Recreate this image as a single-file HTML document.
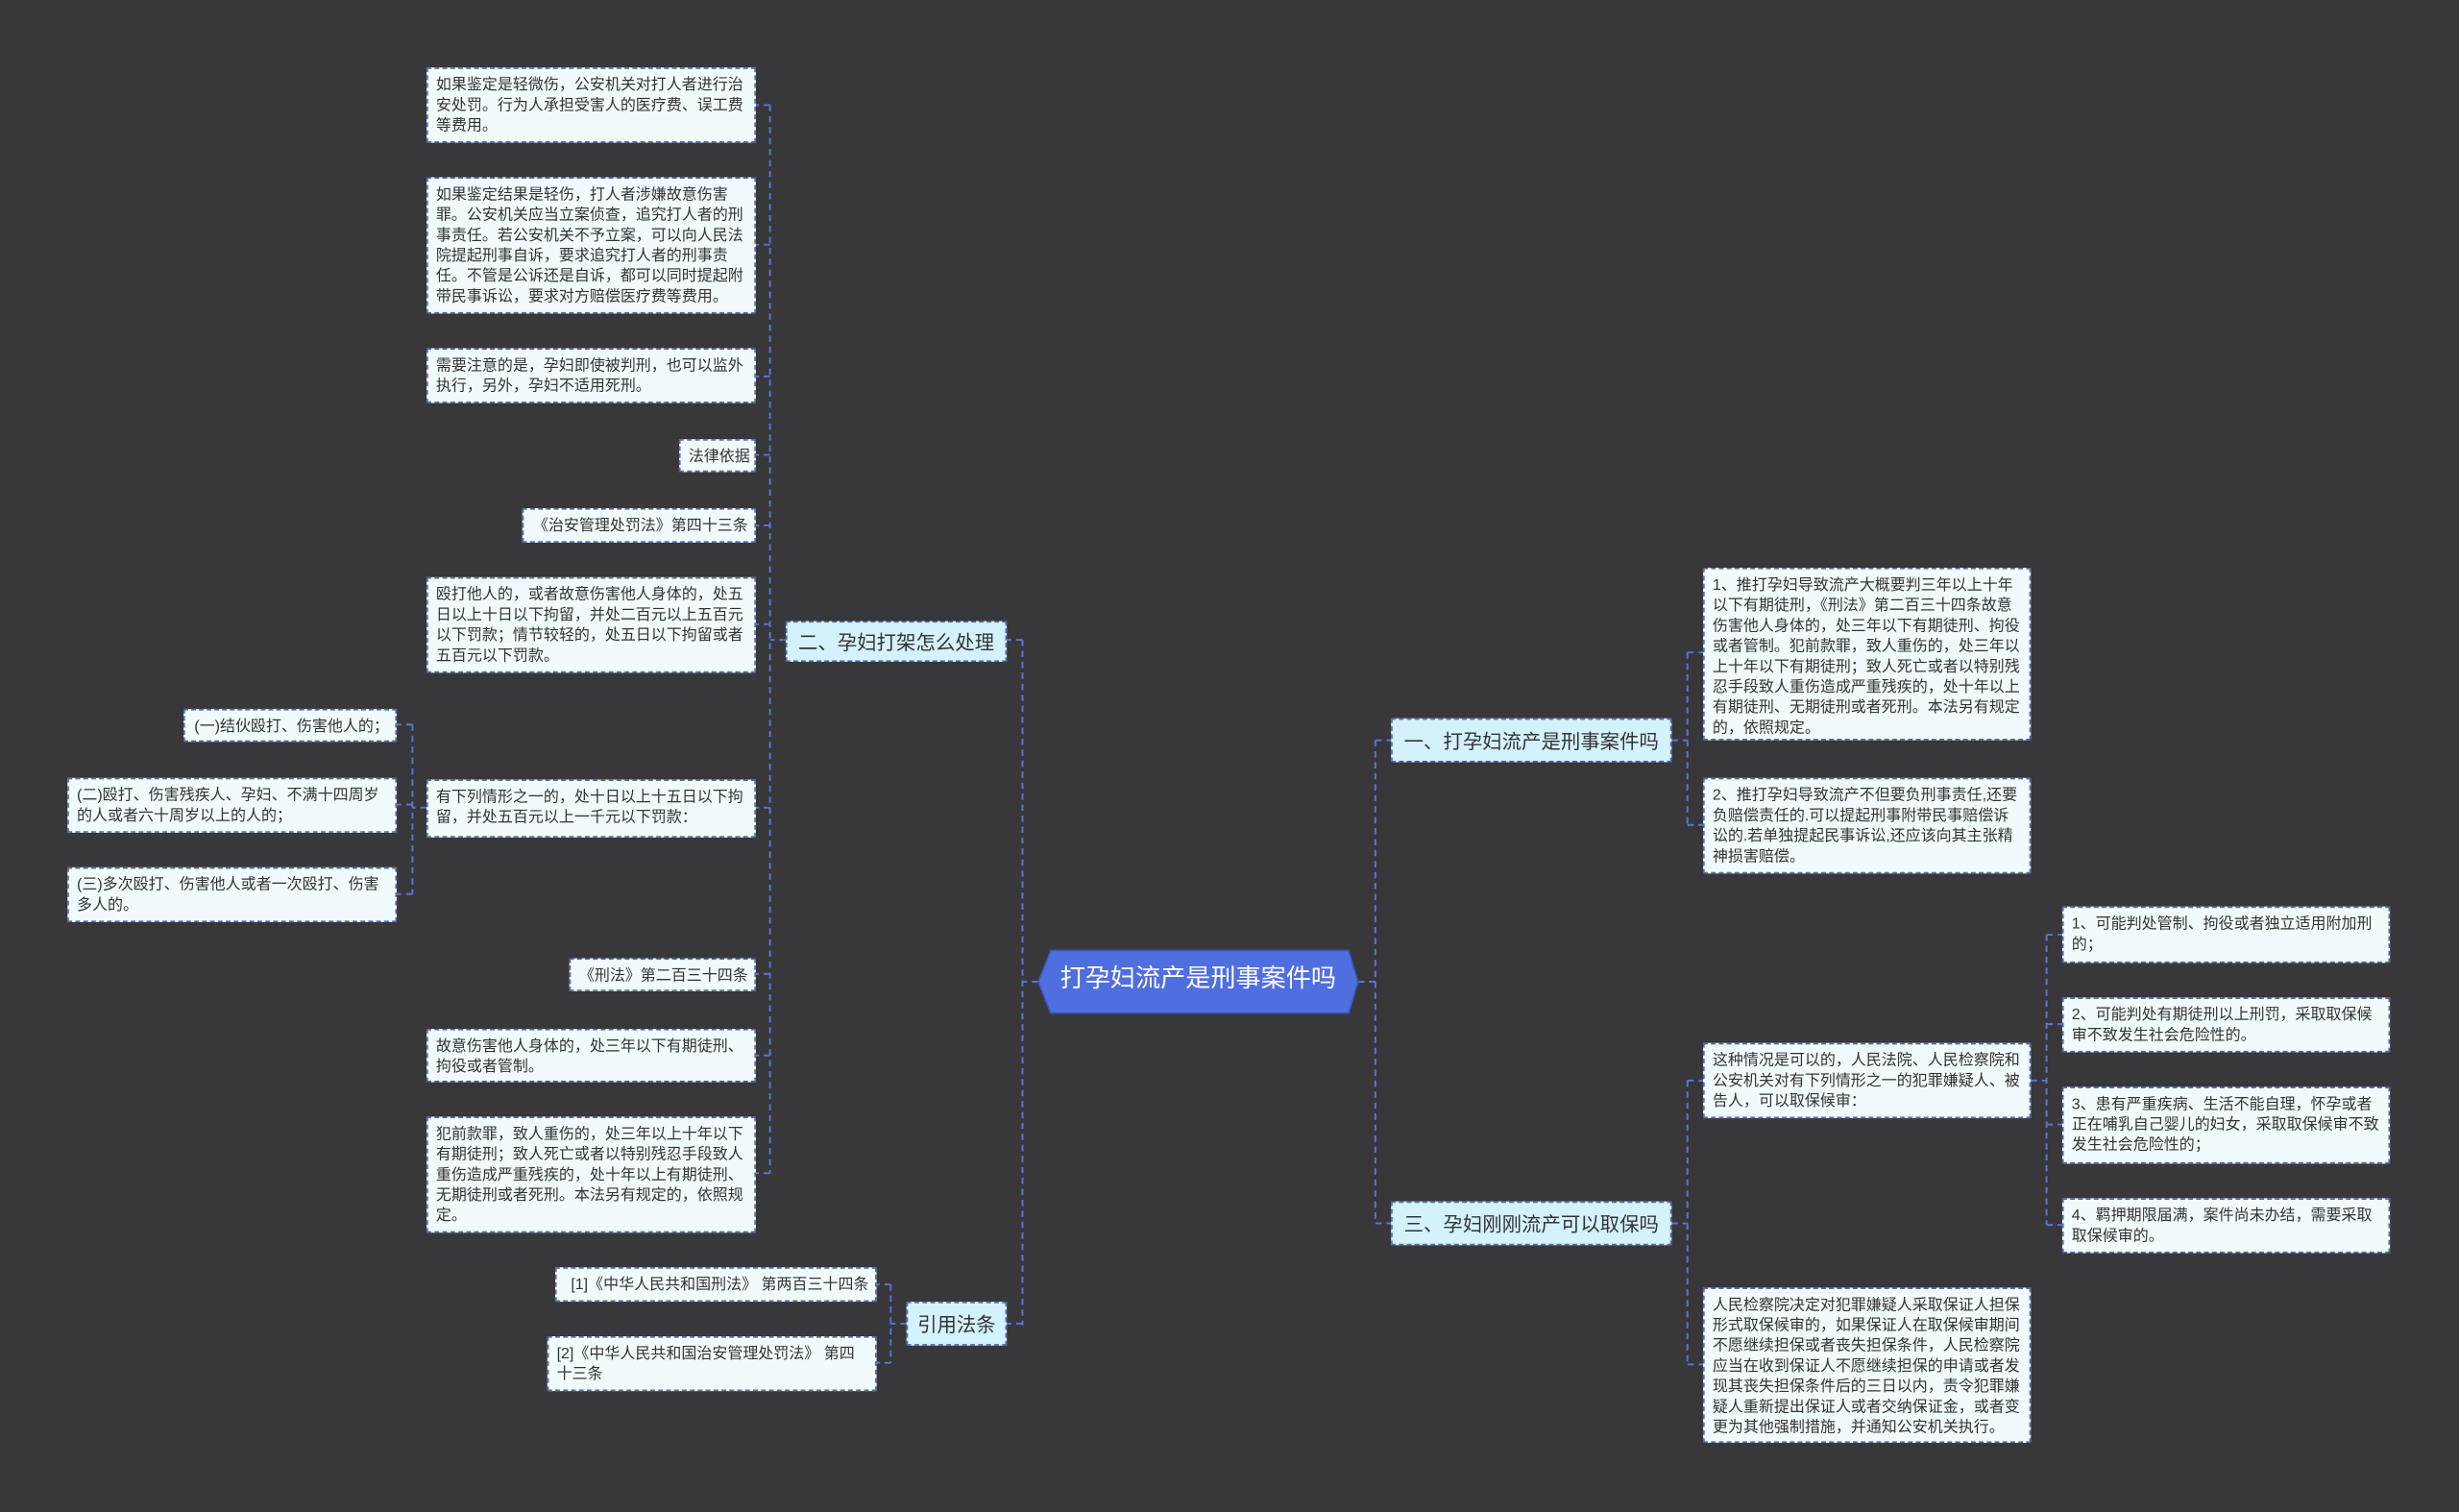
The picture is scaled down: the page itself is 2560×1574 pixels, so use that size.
<!DOCTYPE html>
<html><head><meta charset="utf-8">
<style>
html,body{margin:0;padding:0;background:#383739;}
body{width:2560px;height:1574px;overflow:hidden;}
#w{position:absolute;left:0;top:0;width:1568px;height:964px;transform:scale(1.63265);transform-origin:0 0;font-family:"Liberation Sans","Noto Sans CJK SC",sans-serif;}
.n{position:absolute;box-sizing:border-box;background:#f1fbfd;border:1px dashed #5468a8;color:#333;font-size:9.8px;line-height:13px;padding:4px 4px 4px 5px;word-break:break-all;overflow:hidden;}
.s{white-space:nowrap;text-align:right;padding-right:4px;}
.l1{position:absolute;box-sizing:border-box;background:#d4f2fc;border:1px dashed #5468a8;color:#333;font-size:12.5px;line-height:26px;text-align:center;white-space:nowrap;}
svg{position:absolute;left:0;top:0;}
</style></head><body><div id="w">
<svg width="1568" height="964"><g stroke="#5a74d6" stroke-width="1.2" stroke-dasharray="4,3" fill="none">
<path d="M662 626H652M652 408V845M652 408H642M652 844H642"/>
<path d="M866 626H877M877 472V780M877 472H887M877 780H887"/>
<path d="M501 408H491M491 67V748M491 67H482M491 156H482M491 240H482M491 290H482M491 335H482M491 398H482M491 515H482M491 621H482M491 673H482M491 748H482"/>
<path d="M272 515H263M263 462V570M263 462H253M263 513H253M263 570H253"/>
<path d="M578 844H568M568 819V869M568 819H559M568 869H559"/>
<path d="M1066 472H1076M1076 416V526M1076 416H1086M1076 526H1086"/>
<path d="M1066 780H1076M1076 689V870M1076 689H1086M1076 870H1086"/>
<path d="M1295 689H1305M1305 596V781M1305 596H1315M1305 653H1315M1305 717H1315M1305 781H1315"/>
</g>
<polygon points="670,606 860,606 866,626 860,646 670,646 662,626" fill="#4f6ee0" stroke="#3c55b8"/>
</svg>
<div style="position:absolute;left:662px;top:605px;width:204px;height:40px;line-height:40px;text-align:center;color:#fff;font-size:16px;white-space:nowrap;">打孕妇流产是刑事案件吗</div>

<div class="l1" style="left:501px;top:396px;width:141px;height:26px;">二、孕妇打架怎么处理</div>
<div class="l1" style="left:578px;top:830px;width:64px;height:28px;line-height:28px;">引用法条</div>
<div class="l1" style="left:887px;top:458px;width:179px;height:28px;line-height:28px;">一、打孕妇流产是刑事案件吗</div>
<div class="l1" style="left:887px;top:766px;width:179px;height:28px;line-height:28px;">三、孕妇刚刚流产可以取保吗</div>

<div class="n" style="left:272px;top:43px;width:210px;height:48px;">如果鉴定是轻微伤，公安机关对打人者进行治安处罚。行为人承担受害人的医疗费、误工费等费用。</div>
<div class="n" style="left:272px;top:113px;width:210px;height:87px;">如果鉴定结果是轻伤，打人者涉嫌故意伤害罪。公安机关应当立案侦查，追究打人者的刑事责任。若公安机关不予立案，可以向人民法院提起刑事自诉，要求追究打人者的刑事责任。不管是公诉还是自诉，都可以同时提起附带民事诉讼，要求对方赔偿医疗费等费用。</div>
<div class="n" style="left:272px;top:222px;width:210px;height:35px;">需要注意的是，孕妇即使被判刑，也可以监外执行，另外，孕妇不适用死刑。</div>
<div class="n s" style="left:433px;top:280px;width:49px;height:21px;">法律依据</div>
<div class="n s" style="left:333px;top:324px;width:149px;height:22px;">《治安管理处罚法》第四十三条</div>
<div class="n" style="left:272px;top:368px;width:210px;height:61px;">殴打他人的，或者故意伤害他人身体的，处五日以上十日以下拘留，并处二百元以上五百元以下罚款；情节较轻的，处五日以下拘留或者五百元以下罚款。</div>
<div class="n" style="left:272px;top:497px;width:210px;height:37px;">有下列情形之一的，处十日以上十五日以下拘留，并处五百元以上一千元以下罚款：</div>
<div class="n s" style="left:117px;top:452px;width:136px;height:21px;">(一)结伙殴打、伤害他人的；</div>
<div class="n" style="left:43px;top:496px;width:210px;height:35px;">(二)殴打、伤害残疾人、孕妇、不满十四周岁的人或者六十周岁以上的人的；</div>
<div class="n" style="left:43px;top:553px;width:210px;height:35px;">(三)多次殴打、伤害他人或者一次殴打、伤害多人的。</div>
<div class="n s" style="left:363px;top:611px;width:119px;height:21px;">《刑法》第二百三十四条</div>
<div class="n" style="left:272px;top:656px;width:210px;height:34px;">故意伤害他人身体的，处三年以下有期徒刑、拘役或者管制。</div>
<div class="n" style="left:272px;top:712px;width:210px;height:74px;">犯前款罪，致人重伤的，处三年以上十年以下有期徒刑；致人死亡或者以特别残忍手段致人重伤造成严重残疾的，处十年以上有期徒刑、无期徒刑或者死刑。本法另有规定的，依照规定。</div>
<div class="n s" style="left:354px;top:808px;width:205px;height:22px;">[1]《中华人民共和国刑法》 第两百三十四条</div>
<div class="n" style="left:349px;top:852px;width:210px;height:35px;">[2]《中华人民共和国治安管理处罚法》 第四十三条</div>

<div class="n" style="left:1086px;top:362px;width:209px;height:110px;">1、推打孕妇导致流产大概要判三年以上十年以下有期徒刑，《刑法》第二百三十四条故意伤害他人身体的，处三年以下有期徒刑、拘役或者管制。犯前款罪，致人重伤的，处三年以上十年以下有期徒刑；致人死亡或者以特别残忍手段致人重伤造成严重残疾的，处十年以上有期徒刑、无期徒刑或者死刑。本法另有规定的，依照规定。</div>
<div class="n" style="left:1086px;top:496px;width:209px;height:61px;">2、推打孕妇导致流产不但要负刑事责任,还要负赔偿责任的.可以提起刑事附带民事赔偿诉讼的.若单独提起民事诉讼,还应该向其主张精神损害赔偿。</div>
<div class="n" style="left:1086px;top:665px;width:209px;height:48px;">这种情况是可以的，人民法院、人民检察院和公安机关对有下列情形之一的犯罪嫌疑人、被告人，可以取保候审：</div>
<div class="n" style="left:1086px;top:821px;width:209px;height:99px;">人民检察院决定对犯罪嫌疑人采取保证人担保形式取保候审的，如果保证人在取保候审期间不愿继续担保或者丧失担保条件，人民检察院应当在收到保证人不愿继续担保的申请或者发现其丧失担保条件后的三日以内，责令犯罪嫌疑人重新提出保证人或者交纳保证金，或者变更为其他强制措施，并通知公安机关执行。</div>
<div class="n" style="left:1315px;top:578px;width:209px;height:36px;">1、可能判处管制、拘役或者独立适用附加刑的；</div>
<div class="n" style="left:1315px;top:636px;width:209px;height:35px;">2、可能判处有期徒刑以上刑罚，采取取保候审不致发生社会危险性的。</div>
<div class="n" style="left:1315px;top:693px;width:209px;height:49px;">3、患有严重疾病、生活不能自理，怀孕或者正在哺乳自己婴儿的妇女，采取取保候审不致发生社会危险性的；</div>
<div class="n" style="left:1315px;top:764px;width:209px;height:35px;">4、羁押期限届满，案件尚未办结，需要采取取保候审的。</div>
</div></body></html>
